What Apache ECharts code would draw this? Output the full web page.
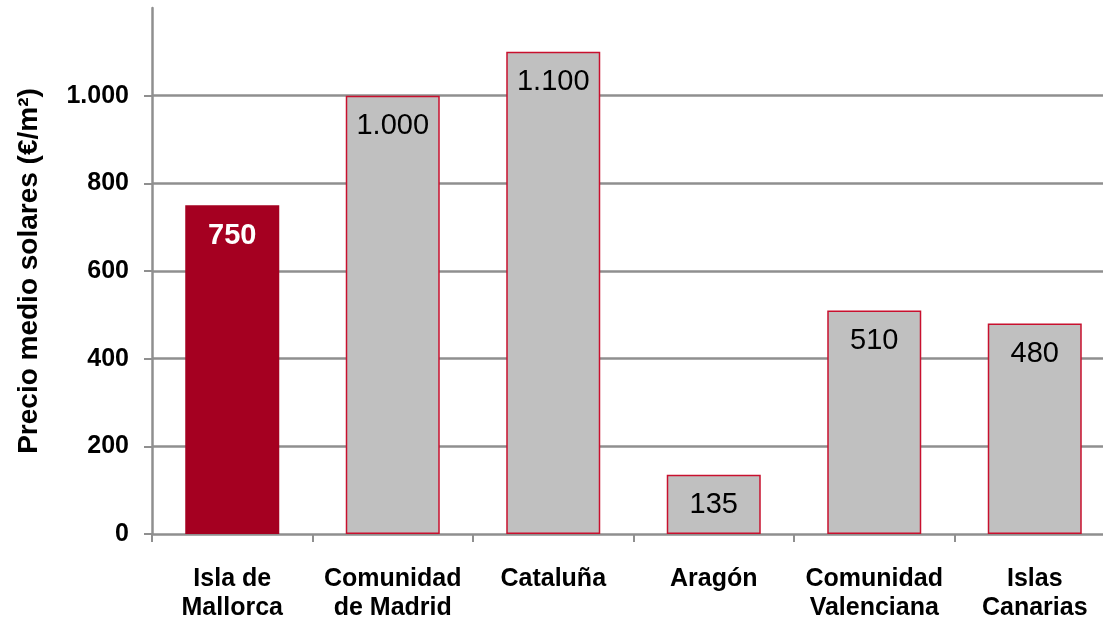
<!DOCTYPE html>
<html>
<head>
<meta charset="utf-8">
<script src="https://cdn.jsdelivr.net/npm/echarts@6/dist/echarts.min.js"></script>
<style>
  html, body { margin: 0; padding: 0; background: #fff; }
  #main { width: 1103px; height: 619px; }
</style>
</head>
<body>
<div id="main"></div>
<script>
// datos del gráfico
var regiones = ['Isla de\nMallorca', 'Comunidad\nde Madrid', 'Cataluña', 'Aragón', 'Comunidad\nValenciana', 'Islas\nCanarias'];
var precios = [750, 1000, 1100, 135, 510, 480];
var marcasEje = [0, 200, 400, 600, 800, 1000];

// formato español: punto de miles
function miles(v) {
  return String(v).replace(/\B(?=(\d{3})+(?!\d))/g, '.');
}

var myChart = echarts.init(document.getElementById('main'));

var option = {
  animation: false,
  textStyle: { fontFamily: 'Liberation Sans, Arial, sans-serif' },
  grid: {
    outerBoundsMode: 'none', // sin ajuste automático
    left: 152,
    top: 8,
    bottom: 85,
    right: -12 // el área sigue más allá del borde derecho, como en el original
  },
  xAxis: {
    type: 'category',
    data: regiones,
    axisLine: { lineStyle: { color: '#8f8f8f', width: 2.5 } },
    axisTick: { show: true, length: 8, lineStyle: { color: '#8f8f8f', width: 2 } },
    axisLabel: {
      interval: 0,
      margin: 31,
      color: '#000',
      fontSize: 25,
      fontWeight: 'bold',
      lineHeight: 29
    }
  },
  yAxis: {
    type: 'value',
    min: 0,
    max: 1200,
    interval: 200,
    name: 'Precio medio solares (€/m²)',
    nameLocation: 'middle',
    nameGap: 109,
    nameTextStyle: { color: '#000', fontSize: 28, fontWeight: 'bold' },
    axisLine: { show: true, lineStyle: { color: '#8f8f8f', width: 2.5 } },
    axisTick: {
      show: true,
      length: 8,
      customValues: marcasEje,
      lineStyle: { color: '#8f8f8f', width: 2 }
    },
    axisLabel: {
      margin: 23,
      color: '#000',
      fontSize: 25,
      fontWeight: 'bold',
      customValues: marcasEje,
      formatter: function (v) { return miles(v); }
    },
    splitLine: {
      show: true,
      showMinLine: false,
      lineStyle: { color: '#8f8f8f', width: 2.5 }
    }
  },
  series: [
    {
      type: 'bar',
      barWidth: 94,
      data: precios.map(function (v, i) {
        var destacado = i === 0;
        return {
          value: v,
          itemStyle: {
            color: destacado ? '#a50021' : '#c0c0c0',
            borderColor: destacado ? '#a50021' : '#c8102e',
            borderWidth: 1.5
          },
          label: {
            color: destacado ? '#fff' : '#000',
            fontWeight: destacado ? 'bold' : 'normal'
          }
        };
      }),
      label: {
        show: true,
        position: 'insideTop',
        distance: 16,
        fontSize: 29,
        formatter: function (p) { return miles(p.value); }
      }
    }
  ]
};

option && myChart.setOption(option);
</script>
</body>
</html>
